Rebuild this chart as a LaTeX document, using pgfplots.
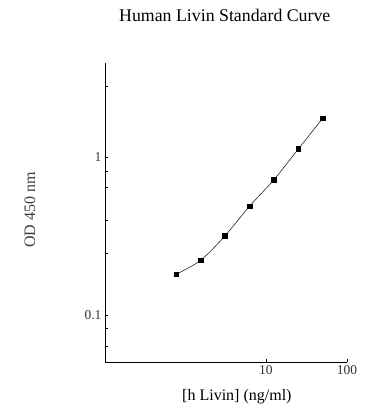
\documentclass[border=0pt]{standalone}
\usepackage{fontspec}
\setmainfont{Liberation Serif}
\usepackage{pgfplots}
\pgfplotsset{compat=1.18}
\begin{document}
\begin{tikzpicture}[x=1pt,y=1pt]
\path[use as bounding box] (0,0) rectangle (388,420);
\begin{axis}[
  at={(105pt,57.7pt)}, anchor=south west,
  scale only axis, width=242pt, height=299.3pt,
  xmode=log, ymode=log,
  xmin=0.103, xmax=100, ymin=0.0504, ymax=3.96,
  axis x line*=bottom, axis y line*=left,
  axis line style={-, line width=0.8pt},
  tick align=inside, major tick length=3.5pt,
  tick style={black, line width=0.7pt},
  xminorticks=false, yminorticks=false,
  xtick={10,100}, xticklabels={10,100},
  ytick={0.1,1}, yticklabels={0.1,1},
  extra y ticks={2.83,0.815,0.648,0.40,0.246,0.083,0.064},
  extra y tick labels={},
  extra y tick style={tick style={black, line width=0.7pt}},
  /pgf/number format/assume math mode=true,
  tick label style={font=\fontsize{13.5}{15}\selectfont, text=black!80},
  title={Human Livin Standard Curve},
  title style={at={(rel axis cs:0.495,1.14)}, anchor=center, font=\fontsize{17.8}{20}\selectfont},
  xlabel={[h Livin] (ng/ml)},
  xlabel style={at={(rel axis cs:0.545,-0.116)}, anchor=center, font=\fontsize{16}{18}\selectfont},
  ylabel={OD 450 nm},
  ylabel style={at={(rel axis cs:-0.31,0.509)}, anchor=center, rotate=0, font=\fontsize{16}{18}\selectfont, text=black!75},
  clip=false,
]
\addplot[black!85, line width=0.6pt, smooth, tension=0.5, mark=square*, mark size=2.4pt, mark options={black, solid}]
coordinates {
(0.78125,0.182)
(1.5625,0.223)
(3.125,0.319)
(6.25,0.490)
(12.5,0.721)
(25,1.128)
(50,1.766)
};
\end{axis}
\end{tikzpicture}
\end{document}
